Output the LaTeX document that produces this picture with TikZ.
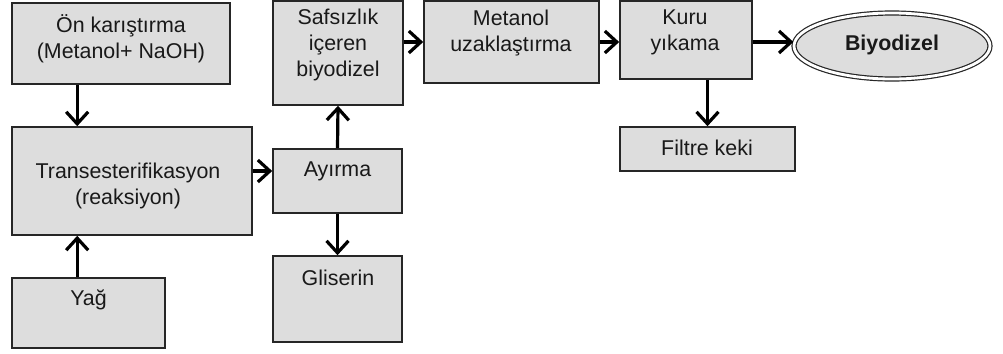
\documentclass[tikz,border=0pt]{standalone}
\usepackage{fontspec}
\setmainfont{Liberation Sans}
\usetikzlibrary{arrows.meta,shapes.geometric}
\definecolor{boxfill}{HTML}{DDDDDD}
\begin{document}
\begin{tikzpicture}[x=0.5pt,y=-0.5pt,
  font=\fontsize{10.7}{12.8}\selectfont,
  box/.style={draw=black!85, line width=0.8pt, fill=boxfill, rectangle, inner sep=0pt},
  lbl/.style={align=center, inner sep=0pt, text=black!90},
  arr/.style={line width=1.6pt, -{Straight Barb[length=6pt,width=11pt,line width=1.6pt]}}]
\useasboundingbox (0,0) rectangle (1003,354);

% process boxes
\node[box, minimum width=109pt, minimum height=40.5pt] (on)   at (121,43.5) {};
\node[box, minimum width=120pt, minimum height=54pt]   (tr)   at (132,181) {};
\node[box, minimum width=76.5pt, minimum height=35pt]  (yag)  at (88.5,313) {};
\node[box, minimum width=64.5pt, minimum height=32pt]  (ayr)  at (337.5,181) {};
\node[box, minimum width=64.5pt, minimum height=43pt]  (gli)  at (337.5,299) {};
\node[box, minimum width=65pt, minimum height=52pt]    (saf)  at (338,53) {};
\node[box, minimum width=87.5pt, minimum height=41pt]  (met)  at (511.5,42) {};
\node[box, minimum width=66pt, minimum height=39pt]    (kuru) at (686,40) {};
\node[box, minimum width=87.5pt, minimum height=22pt]  (fil)  at (707.5,149) {};
\node[draw=black!85, line width=0.6pt, double, double distance=1.4pt, fill=boxfill,
      ellipse, minimum width=98pt, minimum height=33pt, inner sep=0pt] (biyo) at (892,46) {};

% labels
\node[lbl] (onT)   at (121,39)  {Ön karıştırma\\(Metanol+ NaOH)};
\node[lbl] (trT)   at (128,186) {Transesterifikasyon\\(reaksiyon)};
\node[lbl] (yagT)  at (88.5,300) {Yağ};
\node[lbl] (ayrT)  at (337.5,171) {Ayırma};
\node[lbl] (gliT)  at (338,278) {Gliserin};
\node[lbl] (safT)  at (338,45)  {Safsızlık\\içeren\\biyodizel};
\node[lbl] (metT)  at (511,33)  {Metanol\\uzaklaştırma};
\node[lbl] (kuruT) at (685,32.5) {Kuru\\yıkama};
\node[lbl] (filT)  at (707,148) {Filtre keki};
\node[lbl, font=\fontsize{10.7}{12.8}\selectfont\bfseries] (biyoT) at (892,45) {Biyodizel};

% flow arrows
\draw[arr] ([xshift=33pt]on.south west) -- ([xshift=33pt]tr.north west);
\draw[arr] ([xshift=33pt]yag.north west) -- ([xshift=33pt]tr.south west);
\draw[arr] ([yshift=5pt]tr.east) -- ([yshift=5pt]ayr.west);
\draw[arr] (ayr.north) -- (saf.south);
\draw[arr] (ayr.south) -- (gli.north);
\draw[arr] (saf.east |- met.west) -- (met.west);
\draw[arr] (met.east) -- (kuru.west |- met.east);
\draw[arr] ([yshift=-1pt]kuru.east) -- ([yshift=-1pt]kuru.east -| biyo.west);
\draw[arr] (kuru.south -| fil.north) -- (fil.north);
\end{tikzpicture}
\end{document}
